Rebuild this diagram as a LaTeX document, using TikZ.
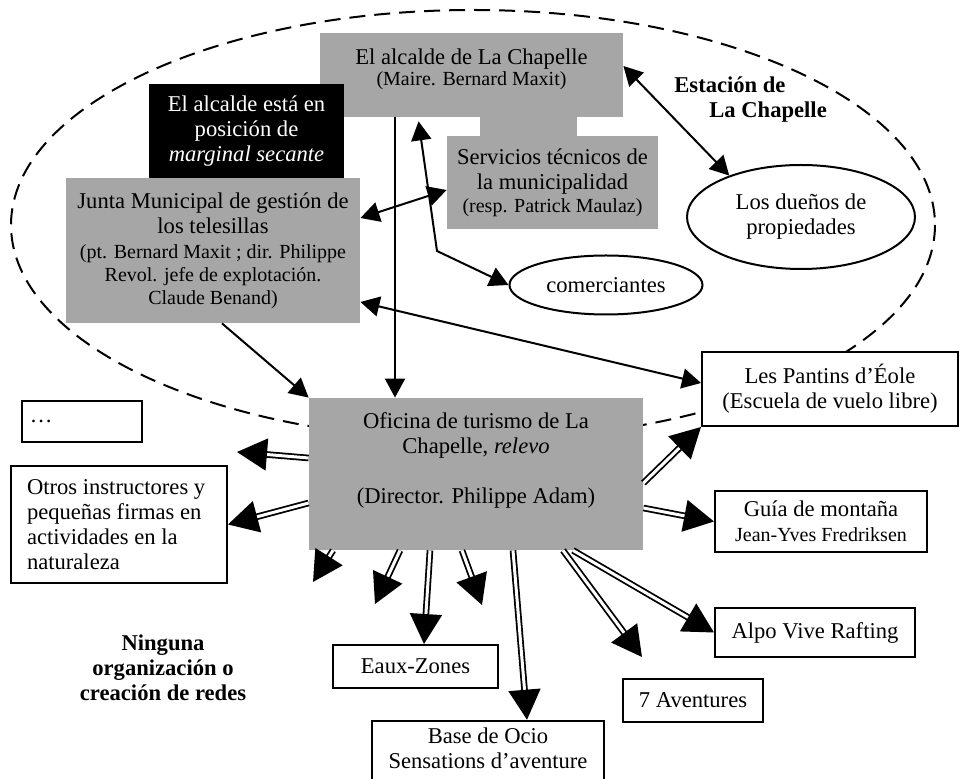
\documentclass[tikz,border=0pt]{standalone}
\usepackage{fontspec}
\setmainfont{Liberation Serif}
\usetikzlibrary{arrows.meta,shapes.geometric}

\newcommand{\mainsize}{\fontsize{11.3}{12.5}\selectfont}
\newcommand{\subsize}{\fontsize{10}{11.3}\selectfont}

\begin{document}
\begin{tikzpicture}[x=0.5pt, y=-0.5pt,
		graybox/.style = {fill=black!35, inner sep=2pt, align=center, font=\mainsize},
		whitebox/.style = {draw, line width=1pt, fill=white, align=center, font=\mainsize},
		actor/.style = {draw, ellipse, line width=1pt, fill=white, inner sep=0pt, align=center, font=\mainsize},
		link/.style = {line width=1pt, -{Triangle[length=9.5pt, width=10pt]}},
		twolink/.style = {line width=1pt, {Triangle[length=9.5pt, width=10pt]}-{Triangle[length=9.5pt, width=10pt]}},
		relay/.style = {double, double distance=1.5pt, line width=0.9pt, -{Triangle[length=15pt, width=16pt]}}
	]
	\useasboundingbox (0,0) rectangle (959,779);
	% station boundary
	\draw[dashed, line width=1pt, dash pattern=on 8pt off 4.5pt] (473,225) ellipse [x radius=462, y radius=215];

	\node[graybox, minimum width=151.5pt, minimum height=42pt] (alcalde) at (471.5,75)
		{El alcalde de La Chapelle\\[-2pt]{\subsize (Maire. Bernard Maxit)}\\[-8pt]\strut};
	\fill[black!35] (480,115) rectangle (577,138);
	\node[graybox, minimum width=105.5pt, minimum height=46.5pt] (servicios) at (552.5,182.5)
		{Servicios técnicos de\\la municipalidad\\[-1pt]{\subsize (resp. Patrick Maulaz)}};
	\node[graybox, fill=black, text=white, minimum width=97.5pt, minimum height=47pt] (secante) at (246.5,131)
		{El alcalde está en\\posición de\\\textit{marginal secante}};
	\node[graybox, minimum width=147pt, minimum height=72.5pt] (junta) at (213,250.5)
		{Junta Municipal de gestión de\\los telesillas\\{\subsize (pt. Bernard Maxit ; dir. Philippe}\\[-1pt]{\subsize Revol. jefe de explotación.}\\[-1pt]{\subsize Claude Benand)}};
	\node[actor, minimum width=114pt, minimum height=52pt] (owners) at (801,217) {Los dueños de\\propiedades};
	\node[actor, minimum width=96.5pt, minimum height=29.5pt] (comerciantes) at (606,285) {comerciantes};
	\node[align=left, font=\mainsize\bfseries, anchor=north west, inner sep=0pt] (estacion) at (674,76)
		{Estación de\\\hspace*{17.5pt}La Chapelle};

	\node[graybox, minimum width=167pt, minimum height=76pt] (oficina) at (476,474)
		{Oficina de turismo de La\\Chapelle, \textit{relevo}\\\strut\\(Director. Philippe Adam)\\\strut};
	\node[whitebox, minimum width=128pt, minimum height=37pt] (pantins) at (830,389)
		{Les Pantins d’Éole\\(Escuela de vuelo libre)};
	\node[whitebox, align=flush left, text width=52pt, inner xsep=4pt, minimum height=20.5pt] (dots) at (82,421.5) {\dots};
	\node[whitebox, align=flush left, text width=92pt, inner xsep=8pt, minimum height=58.5pt] (otros) at (119,524.5)
		{Otros instructores y\\pequeñas firmas en\\actividades en la\\naturaleza};
	\node[align=center, font=\mainsize\bfseries] (ninguna) at (163,668)
		{Ninguna\\organización o\\creación de redes};
	\node[whitebox, minimum width=82.5pt, minimum height=21.5pt] (eaux) at (415.5,666.5) {Eaux-Zones};
	\node[whitebox, minimum width=116pt, minimum height=40pt] (base) at (488,764)
		{Base de Ocio\\Sensations d’aventure\\\strut};
	\node[whitebox, minimum width=70pt, minimum height=21.5pt] (aventures) at (693,700.5) {7 Aventures};
	\node[whitebox, minimum width=100pt, minimum height=24.5pt] (alpo) at (815,632.5) {Alpo Vive Rafting};
	\node[whitebox, minimum width=106pt, minimum height=30.5pt] (guia) at (821,521.5)
		{Guía de montaña\\{\subsize Jean-Yves Fredriksen}};

	% links inside the station
	\coordinate (mayorfoot) at ([xshift=-38.25pt]alcalde.south);
	\draw[link] (mayorfoot) -- (mayorfoot |- oficina.north);
	\draw[twolink] ([yshift=-3.75pt]servicios.west) -- ([yshift=16.25pt]junta.east);
	\coordinate (bend) at (437,251);
	\draw[twolink, shorten <=2pt] ([xshift=-26.75pt]alcalde.south) -- (bend) -- (comerciantes.west);
	\draw[twolink] ([yshift=4.5pt]alcalde.east) -- (owners.150);
	\draw[twolink] ([yshift=3pt]pantins.west) -- ([yshift=-25.75pt]junta.east);
	\draw[link] ([xshift=4.5pt]junta.south) -- (oficina.north west);

	% relays of the tourist office
	\draw[relay] ([yshift=-14.5pt]oficina.west) -- (otros.east);
	\draw[relay] ([xshift=-23pt]oficina.south) -- ([xshift=4.25pt]eaux.north);
	\draw[relay] ([xshift=18.5pt]oficina.south) -- ([xshift=19.5pt]base.north);
	\draw[relay] ([xshift=43.5pt]oficina.south) -- ([shift={(10pt,10.5pt)}]aventures.north west);
	\draw[relay] ([xshift=48.5pt]oficina.south) -- (alpo.west);
	\draw[relay] ([yshift=-17pt]oficina.east) -- (guia.west);
	\draw[relay] ([yshift=-4.5pt]oficina.east) -- (pantins.south west);
	\coordinate (loose1) at (237,452);
	\coordinate (loose2) at (313,582);
	\coordinate (loose3) at (375,604);
	\coordinate (loose4) at (482,605);
	\draw[relay] ([yshift=8pt]oficina.west) -- (loose1);
	\draw[relay] ([xshift=-71.5pt]oficina.south) -- (loose2);
	\draw[relay] ([xshift=-38pt]oficina.south) -- (loose3);
	\draw[relay] ([xshift=-7pt]oficina.south) -- (loose4);
\end{tikzpicture}
\end{document}
